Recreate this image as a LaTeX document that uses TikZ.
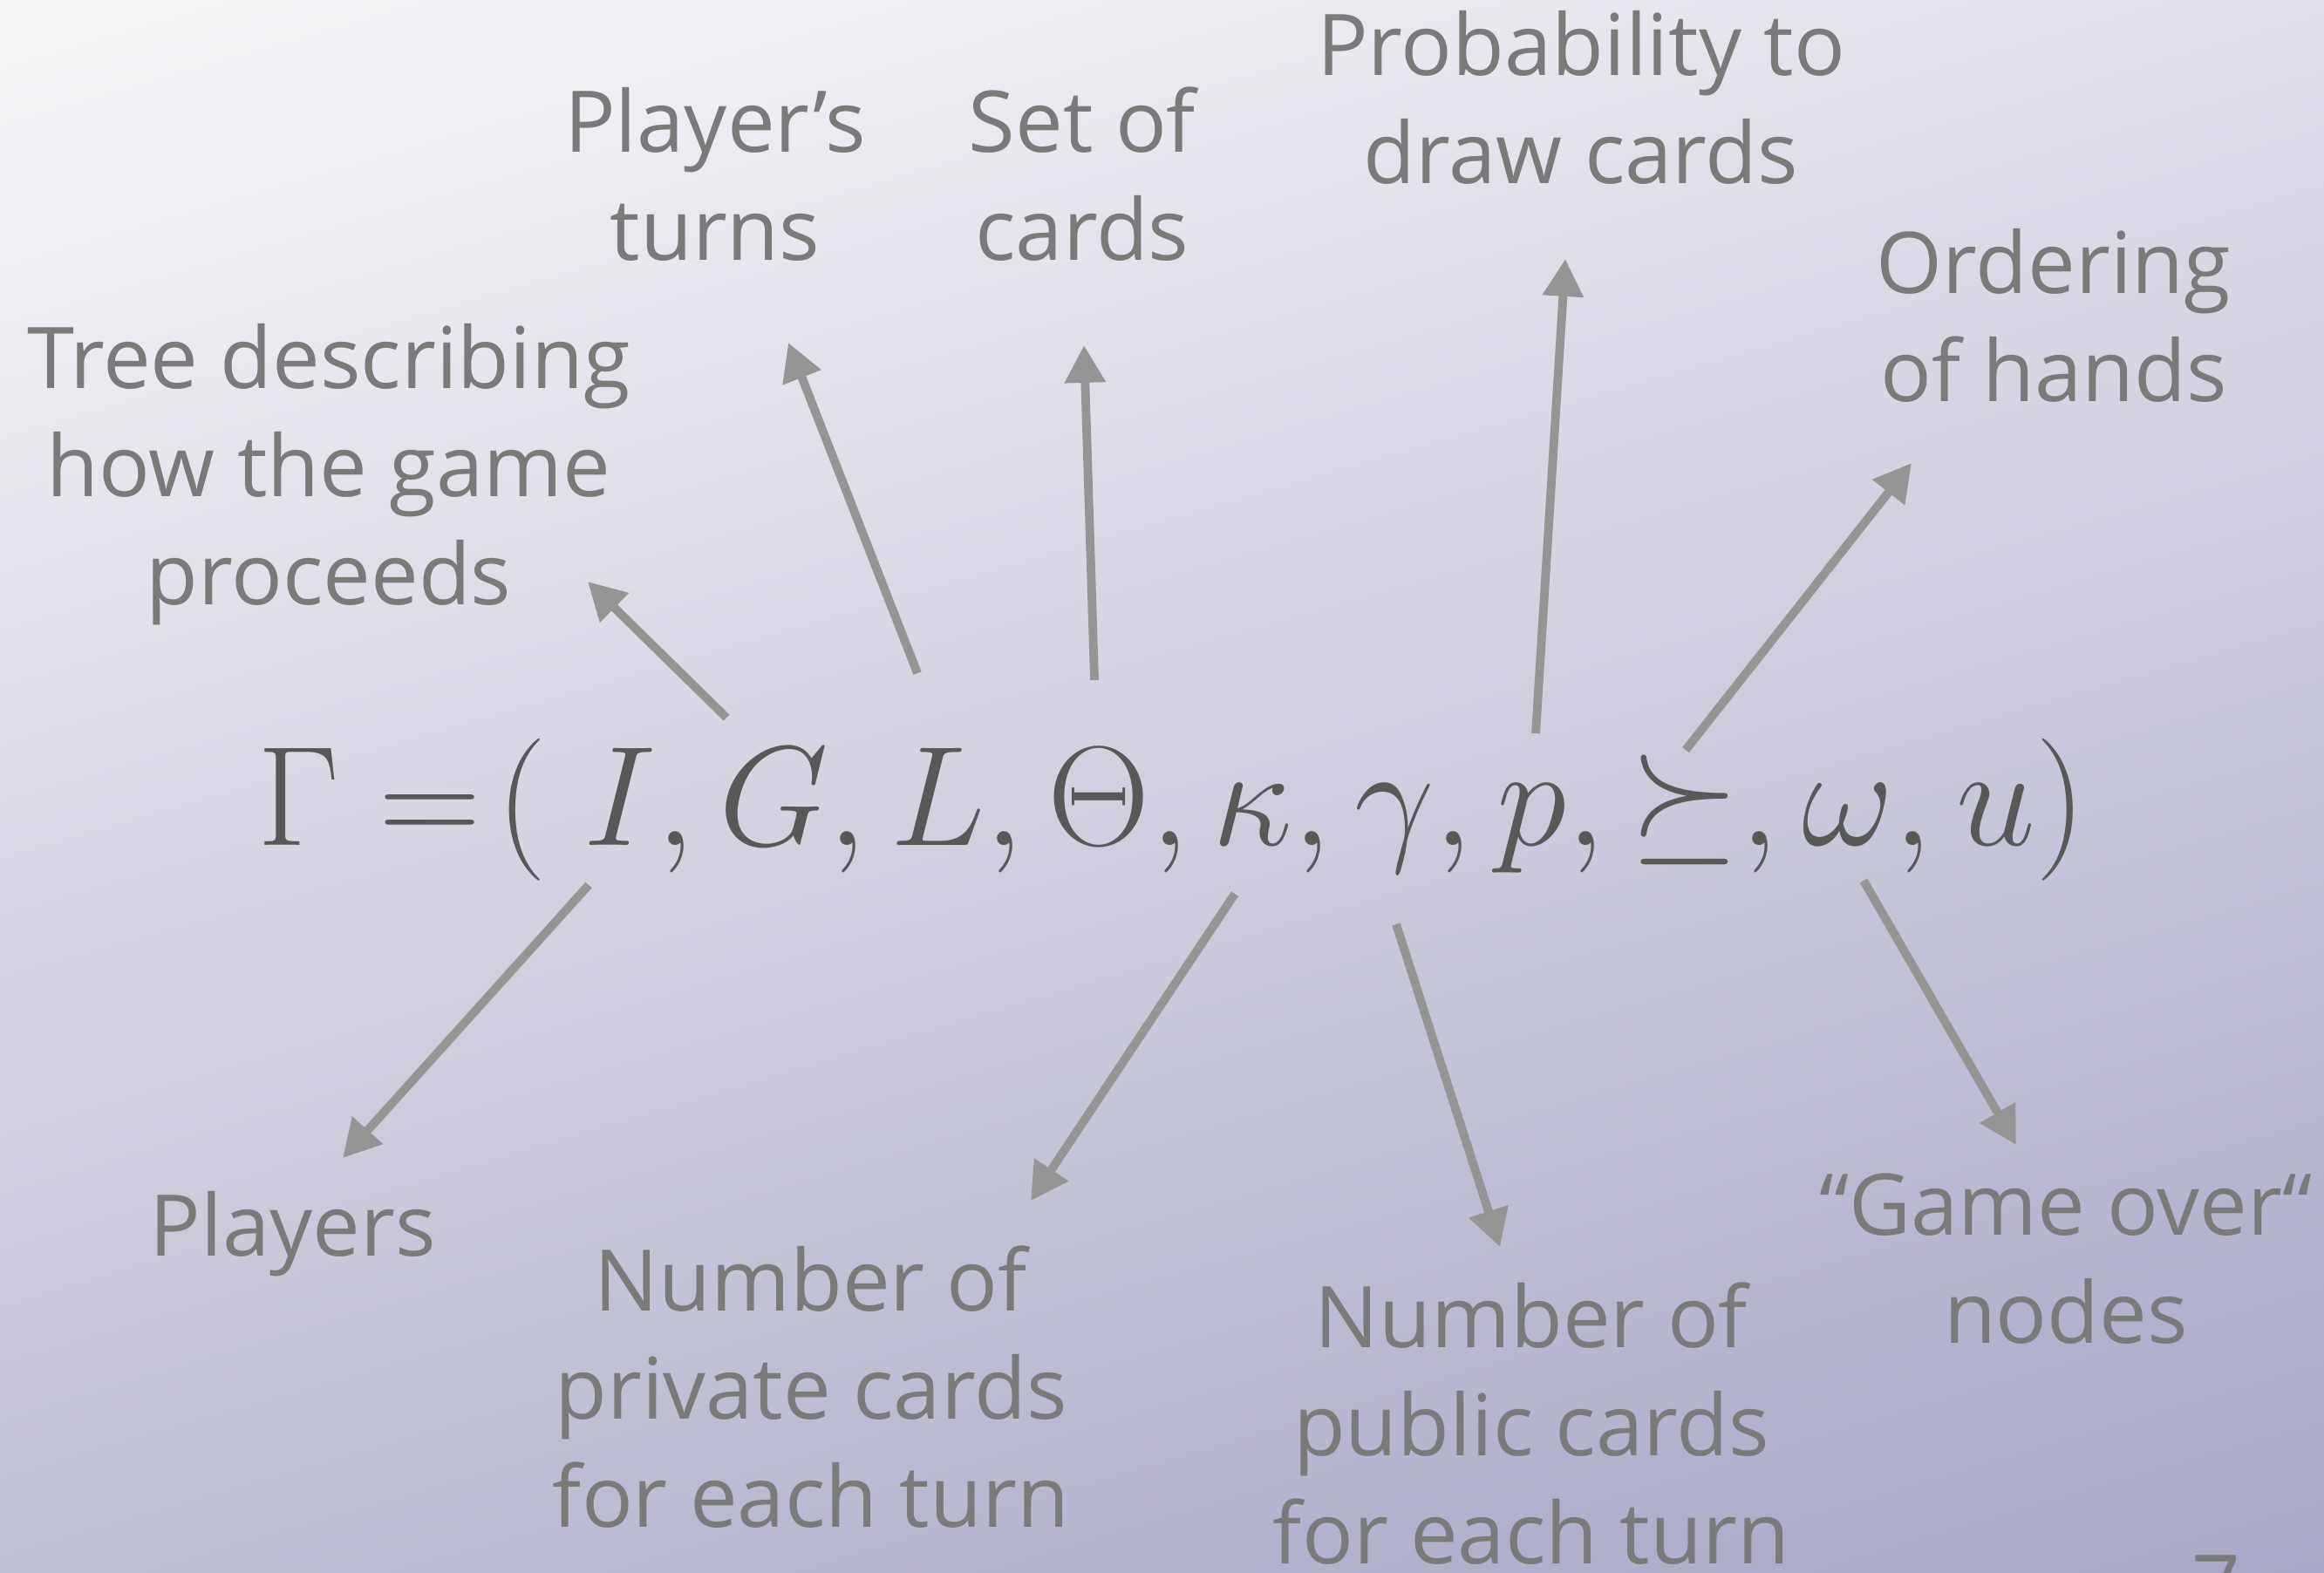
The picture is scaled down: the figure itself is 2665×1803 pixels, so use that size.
\RequirePackage{fix-cm}
\documentclass[tikz,border=0pt]{standalone}
\usepackage[no-math]{fontspec}
\setmainfont{Open Sans}
\usepackage{tikz}
\usetikzlibrary{arrows.meta,shadings}
\definecolor{gmtext}   {HTML}{7A7A7A}
\definecolor{gmgrey}   {HTML}{959595}
\definecolor{gmdark}   {HTML}{585858}
\definecolor{gmbgtl}   {HTML}{F8F8FA}
\definecolor{gmbgtr}   {HTML}{E0E0EA}
\definecolor{gmbgbl}   {HTML}{C0C0D4}
\definecolor{gmbgbr}   {HTML}{A8A7C5}
\tikzset{
  gmlabel/.style={text=gmtext, align=center, inner sep=0pt, anchor=base,
                  font=\fontsize{13.9}{17.6}\selectfont},
  gmformula/.style={text=gmdark, inner sep=0pt, anchor=base west,
                  font=\fontsize{23.2}{28}\selectfont},
  gmarrow/.style={draw=gmgrey, line width=1.4pt,
                  -{Triangle[width=6.4pt,length=6.1pt]}},
}

\begin{document}
\begin{tikzpicture}[x=0.005cm,y=-0.005cm]
  \useasboundingbox (0,0) rectangle (2665,1803);
  \shade[upper left=gmbgtl, upper right=gmbgtr, lower left=gmbgbl, lower right=gmbgbr]
    (0,0) rectangle (2665,1803);
  % the tuple
  \node[gmformula] (game) at (294,969)
    {$\Gamma \mathrel{=}\!(\ I, G, L, \Theta, \kappa, \gamma, p, \succeq, \omega, u)$};
  % labels above (anchored at the last line)
  \node[gmlabel] (tree)  at (377,693)  {Tree describing\\how the game\\proceeds};
  \node[gmlabel] (turns) at (820,298)  {Player’s\\turns};
  \node[gmlabel] (cards) at (1241,298) {Set of\\cards};
  \node[gmlabel] (prob)  at (1813,210) {Probability to\\draw cards};
  \node[gmlabel] (order) at (2355,460) {Ordering\\of hands};
  % labels below
  \node[gmlabel] (players) at (336,1440)  {Players};
  \node[gmlabel] (private) at (930,1751)  {Number of\\private cards\\for each turn};
  \node[gmlabel] (public)  at (1756,1793) {Number of\\public cards\\for each turn};
  \node[gmlabel] (over)    at (2369,1540) {“Game over“\\nodes};
  \node[gmlabel] (page)    at (2541,1853) {7};
  % arrow ends
  \coordinate (treeFrom)    at (833,823);  \coordinate (treeTo)    at (674,667);
  \coordinate (turnsFrom)   at (1052,772); \coordinate (turnsTo)   at (904,393);
  \coordinate (cardsFrom)   at (1255,780); \coordinate (cardsTo)   at (1243,396);
  \coordinate (probFrom)    at (1761,841); \coordinate (probTo)    at (1795,297);
  \coordinate (orderFrom)   at (1933,860); \coordinate (orderTo)   at (2192,531);
  \coordinate (playersFrom) at (675,1015); \coordinate (playersTo) at (393,1328);
  \coordinate (privateFrom) at (1416,1025);\coordinate (privateTo) at (1182,1377);
  \coordinate (publicFrom)  at (1601,1060);\coordinate (publicTo)  at (1720,1430);
  \coordinate (overFrom)    at (2137,1010);\coordinate (overTo)    at (2312,1313);
  \draw[gmarrow] (treeFrom) -- (treeTo);
  \draw[gmarrow] (turnsFrom) -- (turnsTo);
  \draw[gmarrow] (cardsFrom) -- (cardsTo);
  \draw[gmarrow] (probFrom) -- (probTo);
  \draw[gmarrow] (orderFrom) -- (orderTo);
  \draw[gmarrow] (playersFrom) -- (playersTo);
  \draw[gmarrow] (privateFrom) -- (privateTo);
  \draw[gmarrow] (publicFrom) -- (publicTo);
  \draw[gmarrow] (overFrom) -- (overTo);
\end{tikzpicture}
\end{document}
